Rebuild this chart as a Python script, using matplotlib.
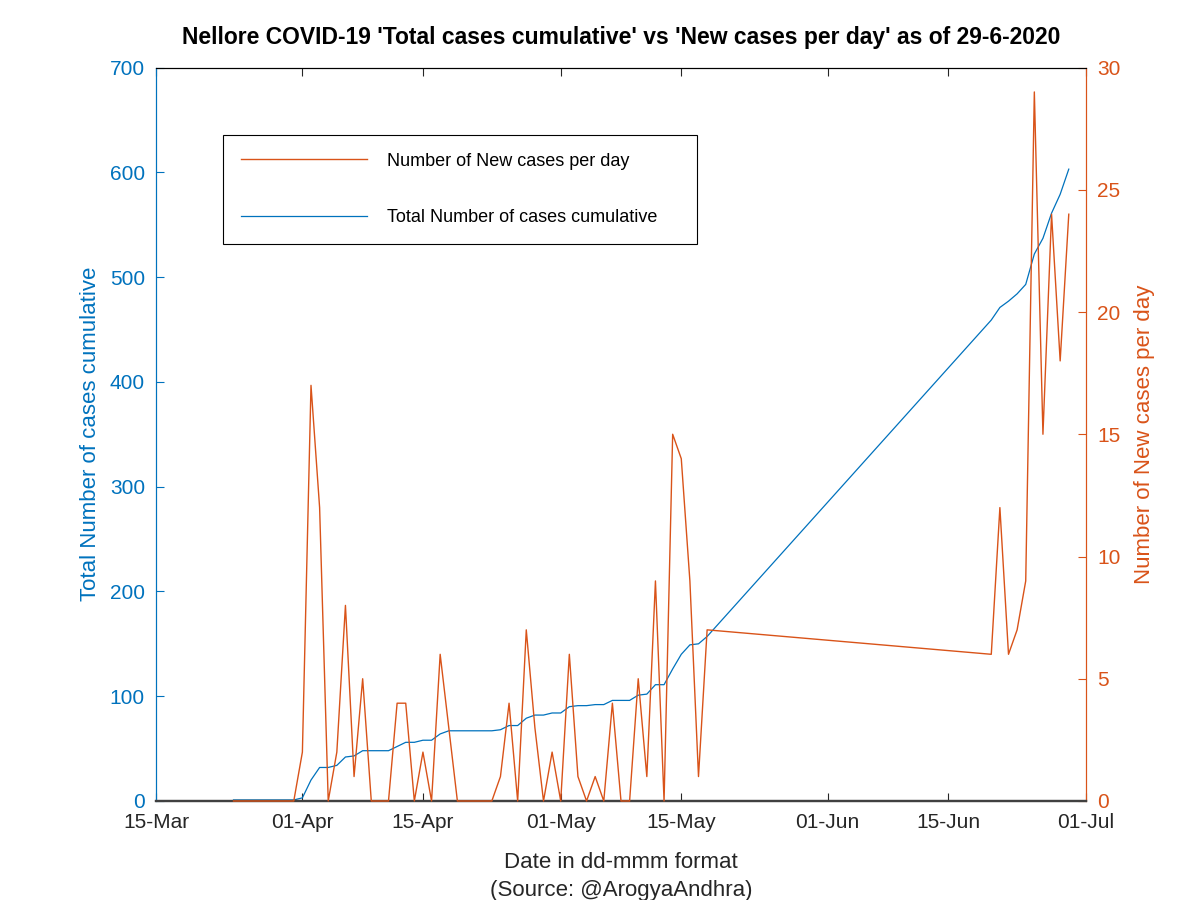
import matplotlib.pyplot as plt
import pandas as pd

plt.rcParams['font.family'] = ['Liberation Sans', 'DejaVu Sans']

# daily data, 24-Mar .. 18-May and then 20-Jun .. 29-Jun (gap in source)
dates = pd.date_range('2020-03-24', '2020-05-18').append(
    pd.date_range('2020-06-20', '2020-06-29'))

new_cases = [0, 0, 0, 0, 0, 0, 0, 0,
             2, 17, 12, 0, 2, 8, 1, 5, 0, 0,
             0, 4, 4, 0, 2, 0, 6, 3, 0, 0,
             0, 0, 0, 1, 4, 0, 7, 3, 0, 2,
             0, 6, 1, 0, 1, 0, 4, 0, 0, 5,
             1, 9, 0, 15, 14, 9, 1, 7,
             6, 12, 6, 7, 9, 29, 15, 24, 18, 24]

total_cases = [1, 1, 1, 1, 1, 1, 1, 1,
               3, 20, 32, 32, 34, 42, 43, 48, 48, 48,
               48, 52, 56, 56, 58, 58, 64, 67, 67, 67,
               67, 67, 67, 68, 72, 72, 79, 82, 82, 84,
               84, 90, 91, 91, 92, 92, 96, 96, 96, 101,
               102, 111, 111, 126, 140, 149, 150, 157,
               459, 471, 477, 484, 493, 522, 537, 561, 579, 603]

tick_dates = pd.to_datetime(['2020-03-15', '2020-04-01', '2020-04-15', '2020-05-01',
                             '2020-05-15', '2020-06-01', '2020-06-15', '2020-07-01'])
tick_labels = ['15-Mar', '01-Apr', '15-Apr', '01-May', '15-May', '01-Jun', '15-Jun', '01-Jul']

blue = '#0072BD'
orange = '#D95319'
dark = '#262626'

fig = plt.figure(figsize=(12, 9), dpi=100)
ax1 = fig.add_axes([0.13, 0.11, 0.775, 0.815])
ax2 = ax1.twinx()

l1, = ax1.plot(dates, total_cases, color=blue, lw=0.9,
               label='Total Number of cases cumulative')
l2, = ax2.plot(dates, new_cases, color=orange, lw=1.0, zorder=3, clip_on=False,
               label='Number of New cases per day')

ax1.set_xlim(tick_dates[0], tick_dates[-1])
ax1.set_xticks(tick_dates)
ax1.set_xticklabels(tick_labels)
ax1.set_ylim(0, 700)
ax1.set_yticks(range(0, 701, 100))
ax2.set_ylim(0, 30)
ax2.set_yticks(range(0, 31, 5))

ax1.tick_params(axis='x', direction='in', length=6, top=True, pad=9,
                labelsize=15, colors=dark)
ax1.tick_params(axis='y', direction='in', length=6, pad=8,
                labelsize=15, colors=blue)
ax2.tick_params(axis='y', direction='in', length=6, pad=8,
                labelsize=15, colors=orange)

for ax in (ax1, ax2):
    ax.spines['left'].set_color(blue)
    ax.spines['right'].set_color(orange)
    ax.spines['top'].set_color('black')
    ax.spines['bottom'].set_color('#404040')
    ax.spines['bottom'].set_linewidth(1.6)
    ax.spines['top'].set_linewidth(0.8)
    ax.spines['left'].set_linewidth(0.8)
    ax.spines['right'].set_linewidth(0.8)

ax1.set_xlabel('Date in dd-mmm format\n(Source: @ArogyaAndhra)',
               fontsize=16, color=dark, labelpad=14, linespacing=1.45)
ax1.set_ylabel('Total Number of cases cumulative', fontsize=16, color=blue, labelpad=6)
ax2.set_ylabel('Number of New cases per day', fontsize=16, color=orange, labelpad=10)

ax1.set_title("Nellore COVID-19 'Total cases cumulative' vs 'New cases per day' as of 29-6-2020",
              fontsize=16.5, fontweight='bold', pad=17)

leg = ax2.legend([l2, l1], [l2.get_label(), l1.get_label()],
                 loc='upper left', bbox_to_anchor=(0.0721, 0.760, 0.510, 0.1486),
                 mode='expand', borderaxespad=0, fontsize=13, handlelength=7,
                 handletextpad=1.1, labelspacing=2.2, borderpad=1.0,
                 fancybox=False, edgecolor='black', framealpha=1)
leg.get_frame().set_linewidth(0.8)
leg.set_zorder(5)

plt.savefig('out.png', dpi=100)
